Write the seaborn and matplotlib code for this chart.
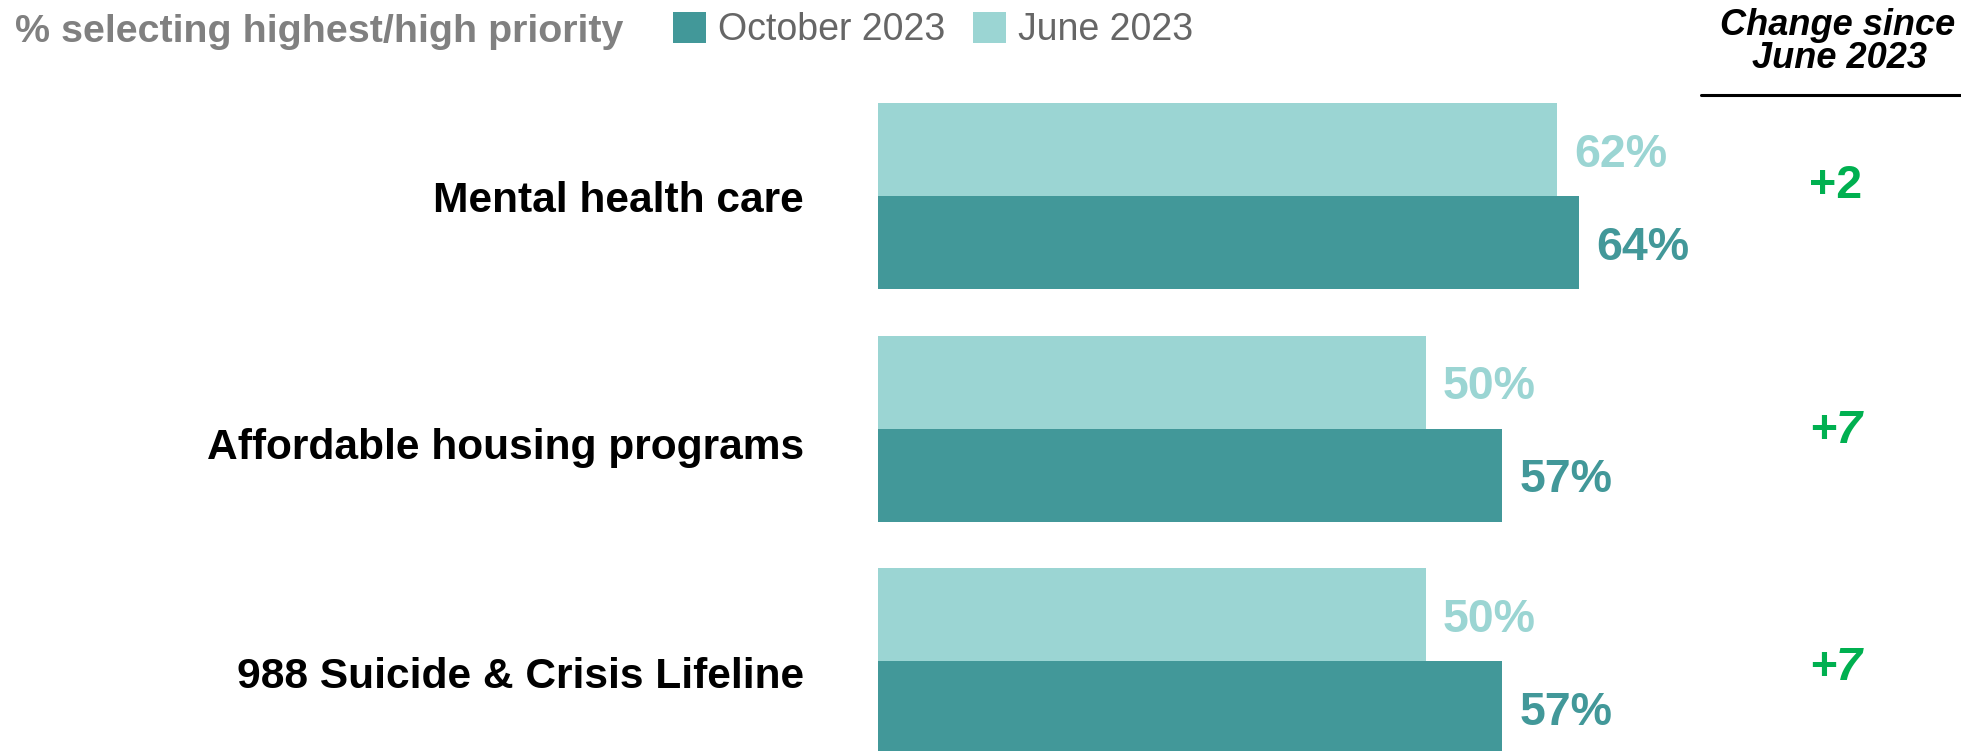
import matplotlib
matplotlib.use("Agg")
import matplotlib.pyplot as plt
from matplotlib.patches import Patch
from matplotlib.lines import Line2D
from matplotlib.transforms import ScaledTranslation
import pandas as pd
import seaborn as sns

# Survey data: share selecting highest/high priority
categories = ["Mental health care", "Affordable housing programs", "988 Suicide & Crisis Lifeline"]
june_2023 = [62, 50, 50]
october_2023 = [64, 57, 57]
periods = ["June 2023", "October 2023"]
legend_order = ["October 2023", "June 2023"]
change_labels = [f"+{o - j}" for o, j in zip(october_2023, june_2023)]
change_styles = ["normal", "italic", "italic"]

colors = {"October 2023": "#429899", "June 2023": "#9BD5D3"}
green = "#00B050"

sns.set_style("white")
plt.rcParams["font.family"] = ["Liberation Sans", "DejaVu Sans"]

df = pd.DataFrame({
    "category": categories * 2,
    "value": june_2023 + october_2023,
    "period": [periods[0]] * len(categories) + [periods[1]] * len(categories),
})

W, H, DPI = 1961, 751, 100
fig = plt.figure(figsize=(W / DPI, H / DPI), dpi=DPI)
ax_left = 877.5 / W
ax = fig.add_axes([ax_left, 0, 1 - ax_left, 1])

sns.barplot(data=df, x="value", y="category", hue="period", hue_order=periods,
            palette=colors, orient="h", width=0.8, saturation=1, legend=False,
            linewidth=0, ax=ax)

px_per_unit = 10.96
ax.set_xlim(0, (W - 877.5) / px_per_unit)
group_px = 232.6
ax.set_ylim((H - 196.25) / group_px, -196.25 / group_px)

for s in ax.spines.values():
    s.set_visible(False)
ax.set_xticks([])
ax.set_xlabel("")
ax.set_ylabel("")
ax.tick_params(axis="y", length=0, pad=53)
ax.set_yticks(range(len(categories)))
ax.set_yticklabels(categories, fontsize=30.6, fontweight="bold", color="black")


def shift_down(artist, px):
    artist.set_transform(artist.get_transform()
                         + ScaledTranslation(0, -px / DPI, fig.dpi_scale_trans))


label_shift_px = [0, 15, 11]
for lbl, dy in zip(ax.get_yticklabels(), label_shift_px):
    shift_down(lbl, dy)

# Value labels at the end of each bar
for container, period in zip(ax.containers, periods):
    vals = june_2023 if period == "June 2023" else october_2023
    texts = ax.bar_label(container, labels=[f"{v}%" for v in vals], padding=12.2,
                         fontsize=33.5, fontweight="bold", color=colors[period])
    for t in texts:
        dx, dy = t.xyann
        t.xyann = (dx, dy - 5 * 72 / DPI)

# Change column
col_x = 1836 / W
change_shift_px = [10, -2, -7]
for i, (txt, st, dy) in enumerate(zip(change_labels, change_styles, change_shift_px)):
    ax.annotate(txt, xy=(col_x, i), xycoords=("figure fraction", "data"),
                xytext=(0, dy * 72 / DPI), textcoords="offset points",
                ha="center", va="center", fontsize=33.5, fontweight="bold",
                fontstyle=st, color=green, annotation_clip=False)

fig.text(1838 / W, 1 - 35 / H, "Change since", ha="center", va="baseline",
         fontsize=26, fontweight="bold", fontstyle="italic", color="black")
fig.text(1839 / W, 1 - 68 / H, "June 2023", ha="center", va="baseline",
         fontsize=26, fontweight="bold", fontstyle="italic", color="black")
fig.add_artist(Line2D([1701 / W, 1.0], [1 - 95 / H, 1 - 95 / H],
                      transform=fig.transFigure, color="black", linewidth=2.2))

# Title and legend along the top
fig.text(15 / W, 1 - 42 / H, "% selecting highest/high priority", ha="left",
         va="baseline", fontsize=28.4, fontweight="bold", color="#808080")
handles = [Patch(facecolor=colors[p], edgecolor="none") for p in legend_order]
leg = fig.legend(handles, legend_order, loc="center left",
                 bbox_to_anchor=(673 / W, 1 - 30 / H), ncol=2, frameon=False,
                 fontsize=27, borderpad=0, borderaxespad=0,
                 handlelength=0.88, handleheight=0.9, handletextpad=0.32,
                 columnspacing=0.75)
for t in leg.get_texts():
    t.set_color("#666666")

fig.savefig("out.png", dpi=DPI, facecolor="white")
